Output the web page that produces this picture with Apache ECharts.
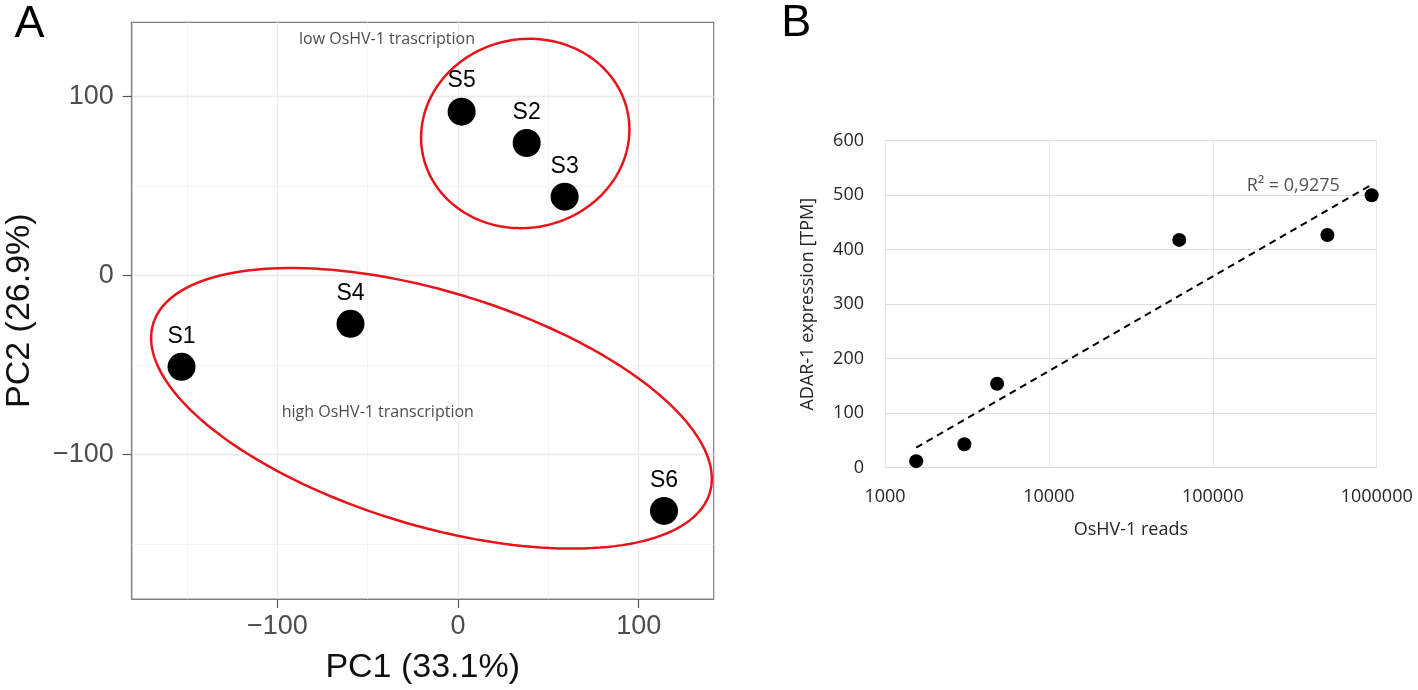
<!DOCTYPE html>
<html><head><meta charset="utf-8">
<script src="https://cdn.jsdelivr.net/npm/echarts@6/dist/echarts.min.js"></script>
<style>html,body{margin:0;padding:0;background:#fff}#c{width:1418px;height:690px}</style>
</head><body><div id="c"></div>
<script>
// ---------- Panel A (PCA) ----------
const pcaLabels = ['S1', 'S2', 'S3', 'S4', 'S5', 'S6'];
const pc1 = [-153, 38, 59, -59.5, 2, 114];
const pc2 = [-51, 74, 44, -27, 91.5, -131.5];
const pcaTicks = [-100, 0, 100];
const pcaMajorGrid = [-100, 0, 100];
const pcaMinorGrid = [-150, -50, 50];
// ellipse parameters: [centre PC1, centre PC2, semi-axis a, semi-axis b, angle deg]
const lowEllipse = [37.2, 79.3, 57.9, 52.6, 13];
const highEllipse = [-14.7, -74.2, 161.1, 65.3, -17.1];
const groupNotes = ['low OsHV-1 trascription', 'high OsHV-1 transcription'];
const notePC1 = [-39.3, -44.4];
const notePC2 = [131.6, -76.7];

// ---------- Panel B (ADAR-1 vs reads) ----------
const reads = [1550, 3050, 4830, 62400, 500000, 932000];
const adar = [12, 43, 154, 418, 427, 500];
const r2Label = 'R² = 0,9275';
const r2Pos = [310000, 517];

function ellipsePts(p) {
  const [cx, cy, a, b, ang] = p;
  const t = ang * Math.PI / 180, pts = [];
  for (let i = 0; i <= 180; i++) {
    const u = 2 * Math.PI * i / 180;
    const x = a * Math.cos(u), y = b * Math.sin(u);
    pts.push([cx + x * Math.cos(t) - y * Math.sin(t), cy + x * Math.sin(t) + y * Math.cos(t)]);
  }
  return pts;
}
// logarithmic trendline (least squares on log10 x)
const L = reads.map(v => Math.log10(v));
const mL = L.reduce((s, v) => s + v, 0) / L.length;
const mY = adar.reduce((s, v) => s + v, 0) / adar.length;
let sxy = 0, sxx = 0;
L.forEach((l, i) => { sxy += (l - mL) * (adar[i] - mY); sxx += (l - mL) * (l - mL); });
const slope = sxy / sxx, icpt = mY - slope * mL;
const xMin = Math.min(...reads), xMax = Math.max(...reads);
const trend = [[xMin, icpt + slope * Math.log10(xMin)], [xMax, icpt + slope * Math.log10(xMax)]];

const minusFmt = v => (v < 0 ? '\u2212' + Math.abs(v) : String(v));
const fA = '"Liberation Sans", Arial, sans-serif';
const fB = '"Open Sans", sans-serif';

const chart = echarts.init(document.getElementById('c'), null, { renderer: 'canvas' });
chart.setOption({
  animation: false,
  backgroundColor: '#fff',
  grid: [
    { left: 131.7, top: 22.3, width: 582, height: 581.4, show: true, borderColor: '#7f7f7f', borderWidth: 1.2, backgroundColor: 'transparent' },
    { left: 885, top: 140.7, width: 491.7, height: 327 }
  ],
  xAxis: [
    {
      type: 'value', gridIndex: 0, min: -180.6, max: 141.5,
      axisLine: { show: true, onZero: false, lineStyle: { color: '#7f7f7f', width: 1.2 } },
      axisTick: { show: true, length: 9, customValues: pcaTicks, lineStyle: { color: '#555', width: 1.2 } },
      axisLabel: { customValues: pcaTicks, formatter: minusFmt, fontSize: 27, color: '#4d4d4d', fontFamily: fA, margin: 14 },
      splitLine: { show: false },
      name: 'PC1 (33.1%)', nameLocation: 'middle', nameGap: 52,
      nameTextStyle: { fontSize: 34, color: '#111', fontFamily: fA }
    },
    {
      type: 'log', logBase: 10, gridIndex: 1, min: 1000, max: 1000000,
      axisLine: { show: true, lineStyle: { color: '#d9d9d9', width: 1.2 } },
      axisTick: { show: false },
      axisLabel: { formatter: v => String(Math.round(v)), fontSize: 18, color: '#262626', fontFamily: fB, margin: 20 },
      splitLine: { show: true, lineStyle: { color: '#e8e8e8', width: 1 } },
      minorTick: { show: false }, minorSplitLine: { show: false },
      name: 'OsHV-1 reads', nameLocation: 'middle', nameGap: 53,
      nameTextStyle: { fontSize: 18, color: '#262626', fontFamily: fB }
    }
  ],
  yAxis: [
    {
      type: 'value', gridIndex: 0, min: -180.7, max: 141.4,
      axisLine: { show: true, onZero: false, lineStyle: { color: '#7f7f7f', width: 1.2 } },
      axisTick: { show: true, length: 9, customValues: pcaTicks, lineStyle: { color: '#555', width: 1.2 } },
      axisLabel: { customValues: pcaTicks, formatter: minusFmt, fontSize: 27, color: '#4d4d4d', fontFamily: fA, margin: 18 },
      splitLine: { show: false },
      name: 'PC2 (26.9%)', nameLocation: 'middle', nameGap: 95,
      nameTextStyle: { fontSize: 34, color: '#111', fontFamily: fA }
    },
    {
      type: 'value', gridIndex: 1, min: 0, max: 600, interval: 100,
      axisLine: { show: false }, axisTick: { show: false },
      axisLabel: { fontSize: 18, color: '#262626', fontFamily: fB, margin: 21 },
      splitLine: { show: true, lineStyle: { color: '#dedede', width: 1.2 } },
      name: 'ADAR-1 expression [TPM]', nameLocation: 'middle', nameGap: 68,
      nameTextStyle: { fontSize: 18, color: '#262626', fontFamily: fB }
    }
  ],
  series: [
    {
      type: 'line', xAxisIndex: 0, yAxisIndex: 0, data: [], z: 0, silent: true,
      markLine: {
        silent: true, z: 0, symbol: ['none', 'none'], label: { show: false }, animation: false,
        data: [
          ...pcaMinorGrid.map(v => ({ xAxis: v, lineStyle: { color: '#f3f3f3', width: 0.9, type: 'solid' } })),
          ...pcaMinorGrid.map(v => ({ yAxis: v, lineStyle: { color: '#f3f3f3', width: 0.9, type: 'solid' } })),
          ...pcaMajorGrid.map(v => ({ xAxis: v, lineStyle: { color: '#ebebeb', width: 1.3, type: 'solid' } })),
          ...pcaMajorGrid.map(v => ({ yAxis: v, lineStyle: { color: '#ebebeb', width: 1.3, type: 'solid' } }))
        ]
      }
    },
    {
      type: 'line', xAxisIndex: 0, yAxisIndex: 0, data: ellipsePts(lowEllipse), showSymbol: false, silent: true, z: 2,
      lineStyle: { color: '#e8141c', width: 2.5 }
    },
    {
      type: 'line', xAxisIndex: 0, yAxisIndex: 0, data: ellipsePts(highEllipse), showSymbol: false, silent: true, z: 2,
      lineStyle: { color: '#e8141c', width: 2.5 }
    },
    {
      type: 'scatter', xAxisIndex: 0, yAxisIndex: 0, symbolSize: 28, z: 3,
      itemStyle: { color: '#000', opacity: 1 },
      data: pc1.map((x, i) => [x, pc2[i], pcaLabels[i]]),
      label: { show: true, position: 'top', distance: 5, formatter: p => p.value[2], fontSize: 23, color: '#000', fontFamily: fA }
    },
    {
      type: 'scatter', xAxisIndex: 0, yAxisIndex: 0, symbolSize: 0, silent: true, z: 4,
      data: groupNotes.map((t, i) => ({ value: [notePC1[i], notePC2[i]], name: t })),
      label: { show: true, position: 'inside', formatter: p => p.name, fontSize: 16, color: '#1a1a1a', fontFamily: fB }
    },
    {
      type: 'line', xAxisIndex: 1, yAxisIndex: 1, data: trend, showSymbol: false, silent: true, z: 2,
      lineStyle: { color: '#000', width: 2, type: [7, 5] }
    },
    {
      type: 'scatter', xAxisIndex: 1, yAxisIndex: 1, symbolSize: 14, z: 3,
      itemStyle: { color: '#000', opacity: 1 },
      data: reads.map((x, i) => [x, adar[i]])
    },
    {
      type: 'scatter', xAxisIndex: 1, yAxisIndex: 1, symbolSize: 0, silent: true, z: 4,
      data: [{ value: r2Pos, name: r2Label }],
      label: { show: true, position: 'inside', formatter: p => p.name, fontSize: 18, color: '#262626', fontFamily: fB }
    }
  ],
  graphic: [
    { type: 'text', x: 29.4, y: 24.2, style: { text: 'A', fontSize: 45, fontFamily: fA, fill: '#000', align: 'center', verticalAlign: 'middle' } },
    { type: 'text', x: 796.3, y: 23.8, style: { text: 'B', fontSize: 45, fontFamily: fA, fill: '#000', align: 'center', verticalAlign: 'middle' } }
  ]
});
</script>
</body></html>
